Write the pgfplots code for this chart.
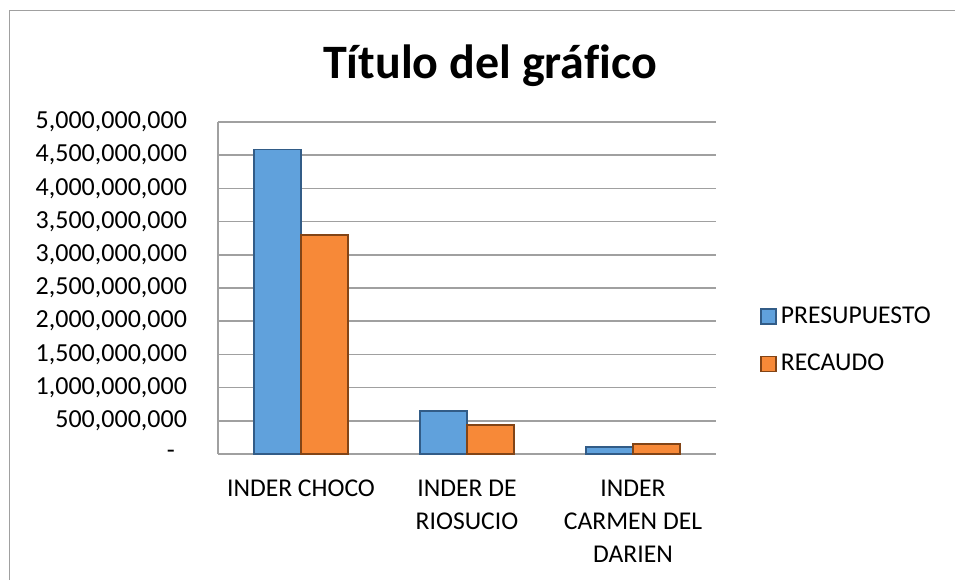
\documentclass[border=0pt]{standalone}
\usepackage{fontspec}
\setmainfont{Carlito}[Ligatures=NoCommon]
\usepackage{pgfplots}
\pgfplotsset{compat=1.18}

\definecolor{presu}{RGB}{96,161,220}
\definecolor{presuedge}{RGB}{50,92,135}
\definecolor{recau}{RGB}{247,137,56}
\definecolor{recauedge}{RGB}{130,68,22}
\definecolor{gridgray}{RGB}{160,160,160}

\begin{document}
\begin{tikzpicture}
\path[use as bounding box] (0pt,0pt) rectangle (477.5pt,-290pt);
\draw[gridgray, line width=0.8pt] (4.75pt,-290pt) -- (4.75pt,-5.25pt) -- (477.5pt,-5.25pt);
\begin{axis}[
    at={(109pt,-227pt)}, anchor=south west,
    scale only axis,
    width=249pt, height=166pt,
    ybar=0pt,
    bar width=0.283,
    xmin=-0.5, xmax=2.5,
    ymin=0, ymax=5000000000,
    xtick={0,1,2},
    xticklabels={INDER CHOCO, INDER DE\\RIOSUCIO, INDER\\CARMEN DEL\\DARIEN},
    xticklabel style={align=center, anchor=north, yshift=-9.5pt,
        font=\fontsize{12.8}{16.5}\selectfont},
    ytick={0,500000000,1000000000,1500000000,2000000000,2500000000,3000000000,3500000000,4000000000,4500000000,5000000000},
    yticklabels={-\kern6pt, {500,000,000}, {1,000,000,000}, {1,500,000,000}, {2,000,000,000}, {2,500,000,000}, {3,000,000,000}, {3,500,000,000}, {4,000,000,000}, {4,500,000,000}, {5,000,000,000}},
    yticklabel style={anchor=east, xshift=-12pt, font=\fontsize{13}{15}\selectfont},
    scaled y ticks=false,
    major tick length=0pt,
    ymajorgrids,
    grid style={gridgray, line width=0.8pt},
    axis x line*=bottom,
    axis y line*=left,
    axis line style={gridgray, line width=0.8pt},
    title={Título del gráfico},
    title style={at={(0.546,1.096)}, anchor=base,
        font=\bfseries\fontsize{24}{28}\selectfont},
    legend style={at={(1,0.343)}, anchor=west, xshift=19pt, draw=none, fill=none,
        font=\fontsize{12.8}{15}\selectfont, row sep=10pt},
    legend cell align=left,
    legend image code/.code={\fill[#1] (0pt,-3.75pt) rectangle (7.5pt,3.75pt);},
]
\addplot[fill=presu, draw=presuedge, line width=0.8pt] coordinates {(0,4585000000) (1,650000000) (2,110000000)};
\addplot[fill=recau, draw=recauedge, line width=0.8pt] coordinates {(0,3300000000) (1,440000000) (2,150000000)};
\legend{PRESUPUESTO, RECAUDO}
\end{axis}
\end{tikzpicture}
\end{document}
